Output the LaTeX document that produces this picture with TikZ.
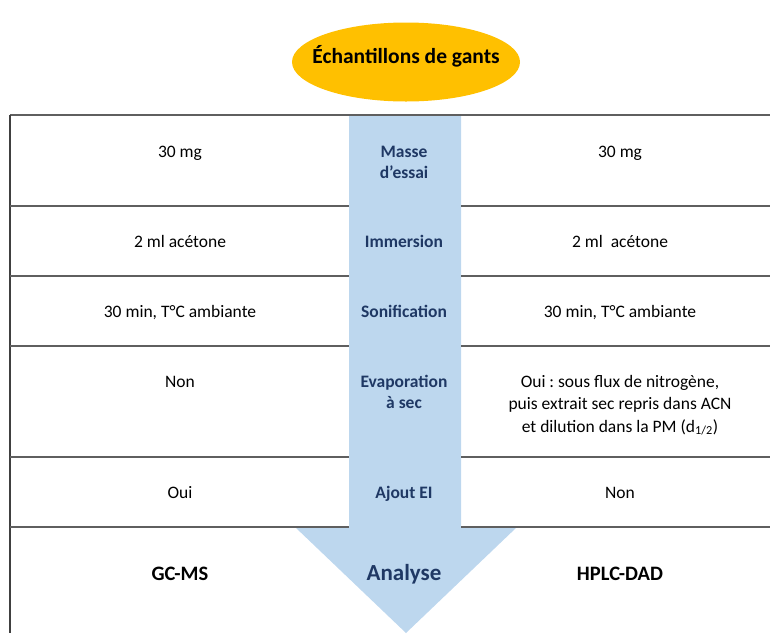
\documentclass[tikz,border=0pt]{standalone}
\usepackage{fontspec}
\setmainfont{Carlito}
\frenchspacing
\usetikzlibrary{shapes.geometric}
\definecolor{arrowblue}{HTML}{BDD7EE}
\definecolor{labelblue}{HTML}{1F3864}
\definecolor{gold}{HTML}{FFC000}
\definecolor{rule}{HTML}{5F5F5F}
\tikzset{
  cell/.style={anchor=base, inner sep=0pt, font=\fontsize{17.5}{21}\selectfont, align=center},
  stepname/.style={anchor=base, inner sep=0pt, text=labelblue, font=\bfseries\fontsize{17.5}{20.5}\selectfont, align=center},
  method/.style={anchor=base, inner sep=0pt, font=\bfseries\fontsize{20.5}{24}\selectfont},
  rowline/.style={draw=rule, line width=1.4pt},
}
\begin{document}
\begin{tikzpicture}[x=1pt,y=-1pt]
\useasboundingbox (0,0) rectangle (770,633);
% title
\node[ellipse, fill=gold, minimum width=228pt, minimum height=79pt, inner sep=0pt] (title) at (406,62) {};
\node[anchor=base, inner sep=0pt, font=\bfseries\fontsize{21.5}{25}\selectfont] (titletext) at (406,63) {Échantillons de gants};
% big arrow
\fill[arrowblue] (349,115) -- (461,115) -- (461,527) -- (517,527) -- (406,633) -- (295,527) -- (349,527) -- cycle;
% table lines
\coordinate (tl) at (10,115);
\coordinate (tr) at (770,115);
\coordinate (bl) at (10,633);
\draw[rowline] (tl) -- (tr);
\draw[draw=black!75, line width=1.4pt] (tl) -- (bl);
\foreach \y in {206,276,346,457,527}{
  \draw[rowline] (10,\y) -- (349,\y);
  \draw[rowline] (461,\y) -- (770,\y);
}
% row 1
\node[cell] (l1) at (180,157.5) {30 mg};
\node[stepname] (m1) at (404,178) {Masse\\d’essai};
\node[cell] (r1) at (620,157.5) {30 mg};
% row 2
\node[cell] (l2) at (180,247.5) {2 ml acétone};
\node[stepname] (m2) at (404,247.5) {Immersion};
\node[cell] (r2) at (620,247.5) {2 ml\ \ acétone};
% row 3
\node[cell] (l3) at (180,317.5) {30 min, T°C ambiante};
\node[stepname] (m3) at (404,317.5) {Sonification};
\node[cell] (r3) at (620,317.5) {30 min, T°C ambiante};
% row 4
\node[cell] (l4) at (180,387.5) {Non};
\node[stepname] (m4) at (404,408) {Evaporation\\à sec};
\node[cell, font=\fontsize{17.5}{22.3}\selectfont] (r4) at (620,432) {Oui : sous flux de nitrogène,\\puis extrait sec repris dans ACN\\et dilution dans la PM (d\textsubscript{1/2})};
% row 5
\node[cell] (l5) at (180,498.5) {Oui};
\node[stepname] (m5) at (404,498.5) {Ajout EI};
\node[cell] (r5) at (620,498.5) {Non};
% row 6
\node[method] (l6) at (180,580.5) {GC-MS};
\node[method, text=labelblue, font=\bfseries\fontsize{23}{27}\selectfont] (m6) at (404,580) {Analyse};
\node[method] (r6) at (620,580.5) {HPLC-DAD};
\end{tikzpicture}
\end{document}
